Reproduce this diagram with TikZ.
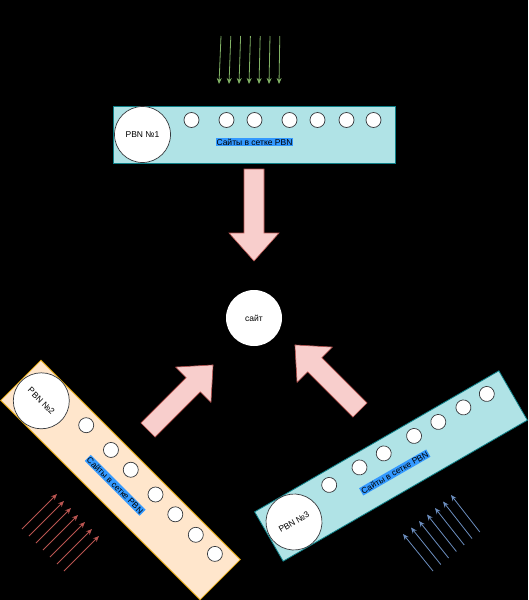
\documentclass[tikz,border=0pt]{standalone}
\usepackage{fontspec}
\setmainfont{Liberation Sans}
\usetikzlibrary{arrows.meta}
\definecolor{barcyan}{HTML}{B0E3E6}
\definecolor{cyanline}{HTML}{0E8088}
\definecolor{barpeach}{HTML}{FFE6CC}
\definecolor{peachline}{HTML}{D79B00}
\definecolor{blockfill}{HTML}{F8CECC}
\definecolor{blockline}{HTML}{B85450}
\definecolor{greenline}{HTML}{82B366}
\definecolor{blueline}{HTML}{6C8EBF}
\definecolor{marker}{HTML}{3399FF}
\definecolor{dotline}{HTML}{36393D}
\tikzset{
	barbox/.style={draw, line width=0.8pt, minimum width=282pt, minimum height=57pt, inner sep=0pt},
	bigdot/.style={circle, draw=dotline, fill=white, line width=0.7pt, minimum size=56pt, inner sep=0pt, font=\fontsize{8.5}{10}\selectfont},
	sitedot/.style={circle, draw=dotline, fill=white, line width=0.7pt, minimum size=15pt, inner sep=0pt},
	marked/.style={fill=marker, inner xsep=0.8pt, inner ysep=1pt, font=\fontsize{8.5}{10}\selectfont},
	blockarrow/.style={fill=blockfill, draw=blockline, line width=0.6pt},
	thinarrow/.style={line width=0.8pt, -{Stealth[length=6pt,width=5pt]}},
	bigarrow/.pic={\draw[blockarrow] (0,-10) -- (64,-10) -- (64,-25) -- (92,0) -- (64,25) -- (64,10) -- (0,10) -- cycle;}
}
\begin{document}
\begin{tikzpicture}[x=1pt,y=-1pt]
	\path[use as bounding box, fill=black] (0,0) rectangle (528,600);
	% the three PBN bars
	\foreach \idx/\cx/\cy/\ang/\fc/\dc in {1/254.5/134.5/0/barcyan/cyanline, 2/120.5/480/-45/barpeach/peachline, 3/391/466/30/barcyan/cyanline} {
		\begin{scope}[shift={(\cx,\cy)}, rotate=\ang, transform shape]
			\node[barbox, fill=\fc, draw=\dc] (bar\idx) at (0,0) {};
			\node[bigdot] (pbn\idx) at (-112,0) {PBN №\idx};
			\foreach \x [count=\k] in {-63,-28,0,35,63,92,119}
				\node[sitedot] (s\idx-\k) at (\x,-14.5) {};
			\node[marked] (lbl\idx) at (0,7.5) {Сайты в сетке PBN};
		\end{scope}
	}
	% target site
	\node[circle, fill=white, minimum size=56pt, inner sep=0pt, font=\fontsize{8.5}{10}\selectfont] (site) at (254,318) {сайт};
	% block arrows towards the site
	\pic[rotate=-90] at (254,169) {bigarrow};
	\pic[rotate=45] at (148,430) {bigarrow};
	\pic[rotate=135] at (360,410) {bigarrow};
	% incoming links
	\foreach \i in {0,...,6}
		\draw[thinarrow, greenline] (221+\i*9.8,36) -- (219+\i*10,84);
	\foreach \i in {0,...,6}
		\draw[thinarrow, blockline] (22+\i*7,529+\i*7) -- (57+\i*7,494+\i*7);
	\foreach \i in {0,...,6}
		\draw[thinarrow, blueline] (433+\i*7.8,571-\i*6.5) -- (403+\i*8,534-\i*6.5);
\end{tikzpicture}
\end{document}
